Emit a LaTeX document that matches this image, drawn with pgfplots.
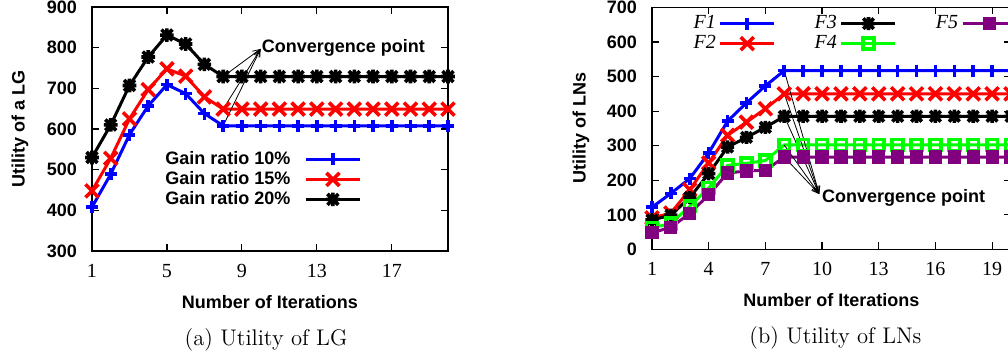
\documentclass[border=0pt]{standalone}
\usepackage{pgfplots}
\pgfplotsset{compat=1.18}
\usepackage{pgfplotstable}
\usepackage{fontspec}
\usetikzlibrary{arrows.meta}
\newfontfamily\hv{Liberation Sans}
\newfontfamily\tms{Liberation Serif}
\definecolor{gblue}{RGB}{0,0,255}
\definecolor{gred}{RGB}{255,0,0}
\definecolor{ggreen}{RGB}{0,255,0}
\definecolor{gpurple}{RGB}{128,0,128}
\pgfdeclareplotmark{plusx}{%
 \pgfpathmoveto{\pgfqpoint{-\pgfplotmarksize}{0pt}}\pgfpathlineto{\pgfqpoint{\pgfplotmarksize}{0pt}}%
 \pgfpathmoveto{\pgfqpoint{0pt}{-\pgfplotmarksize}}\pgfpathlineto{\pgfqpoint{0pt}{\pgfplotmarksize}}%
 \pgfpathmoveto{\pgfqpoint{-.8\pgfplotmarksize}{-.8\pgfplotmarksize}}\pgfpathlineto{\pgfqpoint{.8\pgfplotmarksize}{.8\pgfplotmarksize}}%
 \pgfpathmoveto{\pgfqpoint{-.8\pgfplotmarksize}{.8\pgfplotmarksize}}\pgfpathlineto{\pgfqpoint{.8\pgfplotmarksize}{-.8\pgfplotmarksize}}%
 \pgfusepathqstroke}

\pgfplotstableread{
x   g10  g15  g20
1   408  448  530
2   489  528  610
3   586  625  707
4   657  697  777
5   709  748  831
6   687  730  809
7   638  679  759
8   608  649  729
9   608  649  729
10  608  649  729
11  608  649  729
12  608  649  729
13  608  649  729
14  608  649  729
15  608  649  729
16  608  649  729
17  608  649  729
18  608  649  729
19  608  649  729
20  608  649  729
}\tableLG

\pgfplotstableread{
x   f1   f2   f3   f4   f5
1   122  91   85   62   48
2   162  105  99   75   64
3   205  173  150  125  104
4   279  250  219  178  158
5   371  330  296  243  221
6   424  368  324  249  227
7   473  407  353  257  229
8   517  450  385  302  267
9   517  450  385  302  267
10  517  450  385  302  267
11  517  450  385  302  267
12  517  450  385  302  267
13  517  450  385  302  267
14  517  450  385  302  267
15  517  450  385  302  267
16  517  450  385  302  267
17  517  450  385  302  267
18  517  450  385  302  267
19  517  450  385  302  267
20  517  450  385  302  267
}\tableLN

\begin{document}
\begin{tikzpicture}
\pgfplotsset{
  common/.style={
    scale only axis,
    anchor=south west,
    clip=false,
    axis line style={line width=0.6pt},
    major tick length=3.5pt,
    tick style={line width=0.6pt, black},
    tick align=inside,
    /pgf/number format/assume math mode=true,
    yticklabel style={font=\hv\bfseries\fontsize{9}{10}\selectfont, xshift=-4pt},
    xticklabel style={font=\tms\fontsize{10}{12}\selectfont, yshift=-3pt},
    xlabel style={font=\hv\bfseries\fontsize{9}{10}\selectfont, at={(axis description cs:0.5,-0.209)}, anchor=center},
    ylabel style={font=\hv\bfseries\fontsize{9}{10}\selectfont, anchor=center},
    legend image code/.code={\draw[mark repeat=2,mark phase=2] plot coordinates {(0pt,0pt)(13.5pt,0pt)(27pt,0pt)};},
    legend plot pos=right,
    xmin=1, xmax=20,
  },
  pl/.style={line width=1.5pt, mark options={solid, line width=1.8pt}},
}
% ---------- (a) ----------
\begin{axis}[common,
  at={(46pt,54.5pt)}, width=178pt, height=122pt,
  ymin=300, ymax=900,
  xtick={1,5,9,13,17},
  ytick={300,400,...,900},
  xlabel={Number of Iterations},
  ylabel={Utility of a LG},
  ylabel style={at={(axis description cs:-0.202,0.5)}},
  legend style={at={(0.758,0.418)}, anchor=north east, draw=none, fill=none,
    inner sep=0pt, row sep=0pt,
    nodes={inner xsep=1pt, inner ysep=0.75pt, text height=6.6pt, text depth=1.9pt,
      font=\hv\bfseries\fontsize{9}{10}\selectfont},
    /tikz/every odd column/.append style={column sep=6pt}},
  legend cell align=right,
]
\addplot[pl, gblue, mark=+, mark size=3pt] table[x=x,y=g10] {\tableLG};
\addlegendentry{Gain ratio 10\%}
\addplot[pl, gred, mark=x, mark size=4.6pt] table[x=x,y=g15] {\tableLG};
\addlegendentry{Gain ratio 15\%}
\addplot[pl, black, mark=plusx, mark size=3.4pt] table[x=x,y=g20] {\tableLG};
\addlegendentry{Gain ratio 20\%}
\draw[line width=0.4pt, -{Straight Barb[length=3.5pt,width=3pt]}] (axis cs:8,729) -- (axis cs:10,797);
\draw[line width=0.4pt, -{Straight Barb[length=3.5pt,width=3pt]}] (axis cs:8,649) -- (axis cs:10,797);
\draw[line width=0.4pt, -{Straight Barb[length=3.5pt,width=3pt]}] (axis cs:8,608) -- (axis cs:10,797);
\node[anchor=west, inner sep=0pt, font=\hv\bfseries\fontsize{9}{10}\selectfont] at (axis cs:10.05,800) {Convergence point};
\node[font=\fontsize{11.3}{13}\selectfont] at (axis description cs:0.489,-0.365) {(a) Utility of LG};
\end{axis}
% ---------- (b) ----------
\begin{axis}[common,
  at={(326pt,55.3pt)}, width=179.5pt, height=121pt,
  ymin=0, ymax=700,
  xtick={1,4,...,19},
  ytick={0,100,...,700},
  xlabel={Number of Iterations},
  ylabel={Utility of LNs},
  ylabel style={at={(axis description cs:-0.198,0.5)}},
  legend columns=3,
  legend style={at={(0.109,0.976)}, anchor=north west, draw=none, fill=none,
    inner sep=0pt, row sep=0pt,
    nodes={inner xsep=1pt, inner ysep=0.75pt, text height=6.8pt, text depth=1.7pt,
      font=\tms\itshape\fontsize{10}{11}\selectfont},
    /tikz/every odd column/.append style={column sep=0.5pt},
    /tikz/every even column/.append style={column sep=18.5pt}},
]
\addplot[pl, gblue, mark=+, mark size=3pt, forget plot] table[x=x,y=f1] {\tableLN};
\addplot[pl, gred, mark=x, mark size=4.6pt, forget plot] table[x=x,y=f2] {\tableLN};
\addplot[pl, black, mark=plusx, mark size=3.3pt, forget plot] table[x=x,y=f3] {\tableLN};
\addplot[pl, ggreen, mark=square, mark size=2.7pt, forget plot] table[x=x,y=f4] {\tableLN};
\addplot[pl, gpurple, mark=square*, mark size=2.4pt, forget plot] table[x=x,y=f5] {\tableLN};
\addlegendimage{pl, gblue, mark=+, mark size=3pt}
\addlegendentry{F1}
\addlegendimage{pl, black, mark=plusx, mark size=3.3pt}
\addlegendentry{F3}
\addlegendimage{pl, gpurple, mark=square*, mark size=2.4pt}
\addlegendentry{F5}
\addlegendimage{pl, gred, mark=x, mark size=4.6pt}
\addlegendentry{F2}
\addlegendimage{pl, ggreen, mark=square, mark size=2.7pt}
\addlegendentry{F4}
\foreach \v in {517,450,385,302,267}{
  \edef\temp{\noexpand\draw[line width=0.4pt, -{Straight Barb[length=3.5pt,width=3pt]}] (axis cs:8,\v) -- (axis cs:9.85,160);}
  \temp
}
\node[anchor=west, inner sep=0pt, font=\hv\bfseries\fontsize{9}{10}\selectfont] at (axis cs:9.98,150) {Convergence point};
\node[font=\fontsize{11.3}{13}\selectfont] at (axis description cs:0.511,-0.365) {(b) Utility of LNs};
\end{axis}
\pgfresetboundingbox
\useasboundingbox (0,0) rectangle (504pt,180pt);
\end{tikzpicture}
\end{document}
